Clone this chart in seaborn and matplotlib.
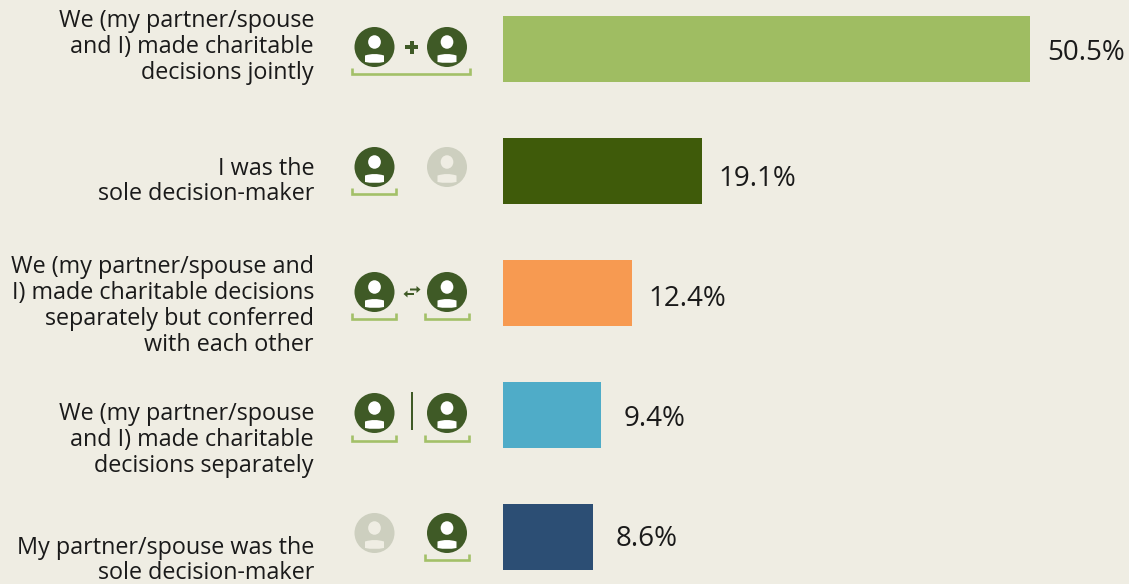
import matplotlib
matplotlib.use("Agg")
import matplotlib.pyplot as plt
import seaborn as sns
import pandas as pd
from matplotlib.patches import Circle, Ellipse, FancyArrow, Rectangle, PathPatch
from matplotlib.path import Path

categories = [
    "We (my partner/spouse\nand I) made charitable\ndecisions jointly",
    "I was the\nsole decision-maker",
    "We (my partner/spouse and\nI) made charitable decisions\nseparately but conferred\nwith each other",
    "We (my partner/spouse\nand I) made charitable\ndecisions separately",
    "My partner/spouse was the\nsole decision-maker",
]
values = [50.5, 19.1, 12.4, 9.4, 8.6]
colors = ["#9fbd62", "#3f5b0a", "#f79a51", "#4facc8", "#2c4e74"]

BG = "#efede3"
DARK = "#3f5a26"
FADED = "#cdcfbf"
BRACKET = "#a3c068"
W, H = 1129, 584

sns.set_theme(style="white")
plt.rcParams["font.family"] = ["Open Sans", "DejaVu Sans"]
fig = plt.figure(figsize=(W / 100, H / 100), dpi=100, facecolor=BG)

# bars: data axes mapped on the figure
ax = fig.add_axes([0, 0, 1, 1], facecolor=BG)
df = pd.DataFrame({"cat": categories, "val": values})
sns.barplot(data=df, x="val", y="cat", hue="cat", palette=colors, legend=False,
            dodge=False, width=66 / 122, saturation=1, linewidth=0, edgecolor="none", ax=ax)
scale = 527 / 50.5
ax.set_xlim(-503 / scale, (W - 503) / scale)
ax.set_ylim((H - 49) / 122, -49 / 122)
ax.axis("off")

# overlay in pixel coordinates
px = fig.add_axes([0, 0, 1, 1], facecolor="none")
px.set_xlim(0, W)
px.set_ylim(H, 0)
px.axis("off")

FS = 16.85
ls = 1.10
label_y = [47, 181.5, 306, 440, 560.5]
for c, y in zip(categories, label_y):
    px.text(314, y, c, ha="right", va="center", fontsize=FS, color="#1a1a1a",
            linespacing=ls, multialignment="right")

val_x = [1047, 718, 648, 624, 616]
val_y = [52.5, 178.5, 298.5, 418.5, 539.5]
for v, x, y in zip(values, val_x, val_y):
    px.text(x, y, f"{v}%", ha="left", va="center", fontsize=20, color="#1a1a1a")


def person(x, y, dark=True):
    bg = DARK if dark else FADED
    fg = "white" if dark else BG
    px.add_patch(Circle((x, y), 20, fc=bg, ec="none"))
    px.add_patch(Ellipse((x, y - 5), 12.7, 13.5, fc=fg, ec="none"))
    verts = [(x - 9.5, y + 8.5), (x, y + 5.5), (x + 9.5, y + 8.5),
             (x + 9.5, y + 15), (x, y + 17), (x - 9.5, y + 15), (x - 9.5, y + 8.5)]
    codes = [Path.MOVETO, Path.CURVE3, Path.CURVE3, Path.LINETO,
             Path.CURVE3, Path.CURVE3, Path.LINETO]
    px.add_patch(PathPatch(Path(verts, codes), fc=fg, ec="none"))


def bracket(x0, x1, y):
    px.plot([x0, x0, x1, x1], [y - 6, y, y, y - 6], color=BRACKET, lw=1.9,
            solid_joinstyle="miter", solid_capstyle="butt")


LX, RX = 374.5, 447
# row 1
person(LX, 47); person(RX, 47); bracket(352, 470, 74)
px.add_patch(Rectangle((405, 45), 13, 4, fc=DARK, ec="none"))
px.add_patch(Rectangle((409.5, 41), 4, 12.5, fc=DARK, ec="none"))
# row 2
person(LX, 167); person(RX, 167, dark=False); bracket(352, 396, 194)
# row 3
person(LX, 292); person(RX, 292); bracket(352, 396, 319); bracket(425, 469, 319)
px.add_patch(FancyArrow(410, 289.5, 10.5, 0, width=2, head_width=7, head_length=4,
                        length_includes_head=True, fc=DARK, ec="none"))
px.add_patch(FancyArrow(414, 294, -10.5, 0, width=2, head_width=7, head_length=4,
                        length_includes_head=True, fc=DARK, ec="none"))
# row 4
person(LX, 413); person(RX, 413); bracket(352, 396, 440.5); bracket(425, 469, 440.5)
px.add_patch(Rectangle((410.5, 392), 2.2, 38, fc=DARK, ec="none"))
# row 5
person(LX, 533, dark=False); person(RX, 533); bracket(425, 469, 560)

fig.savefig("out.png", dpi=100, facecolor=BG)
